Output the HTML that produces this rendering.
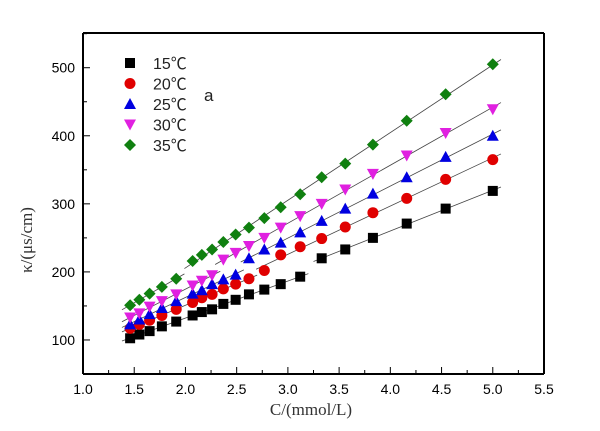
<!DOCTYPE html>
<html><head><meta charset="utf-8"><style>
body{margin:0;background:#fff;}
svg{display:block;}
text{font-family:"Liberation Sans","Noto Sans CJK SC",sans-serif;}
</style></head><body>
<svg id="chart" width="600" height="431"></svg>
<script>
const xs=[1.46,1.55,1.65,1.77,1.91,2.07,2.16,2.26,2.37,2.49,2.62,2.77,2.93,3.12,3.33,3.56,3.83,4.16,4.54,5.0];
const s15=[102.5,108,113,120,127,136,141,145,153,159,167,174,182,193,220,233,250,271,293,319];
const s20=[117,123,129,136,145,155,162,167,175,182,190,202,225,237,249,266,287,308,336,365];
const s25=[123,130,138,147,157,168,173,182,189,196,220,233,243,258,275,293,315,339,369,400];
const s30=[133,139,149,157,167,180,187,195,218,228,238,250,265,282,300,321,344,371,404,439];
const s35=[151,159,168,178,190,216,225,233,244,255,265,279,295,314,339,359,387,422,461,505];
const seriesNames=["15℃","20℃","25℃","30℃","35℃"];
const breaks=[13,10,9,7,4];
const xTicks=[1.0,1.5,2.0,2.5,3.0,3.5,4.0,4.5,5.0,5.5];
const yTicks=[100,200,300,400,500];

const NS="http://www.w3.org/2000/svg";
const svg=document.getElementById('chart');
const L=83,R=544,T=33,B=374,X0=1,X1=5.5,Y0=50,Y1=551;
const sx=v=>L+(v-X0)/(X1-X0)*(R-L);
const sy=v=>B-(v-Y0)/(Y1-Y0)*(B-T);
function el(t,a,p){const e=document.createElementNS(NS,t);for(const k in a)e.setAttribute(k,a[k]);(p||svg).appendChild(e);return e;}

const fr=el('g',{stroke:'#000','stroke-width':2});


[[L,T,R,T],[R,T,R,B],[R,B,L,B],[L,B,L,T]].forEach(p=>{
  const ln=el('line',{x1:p[0],y1:p[1],x2:p[2],y2:p[3],stroke:'#000','stroke-width':2},fr);
  
  
});

for(let k=0;k<=18;k++){
  const v=X0+k*0.25;
  const major=k%2===0;
  const t=el('line',{x1:sx(v),x2:sx(v),y1:B,y2:B-(major?7:4),stroke:'#000','stroke-width':1});
  
  
}
xTicks.forEach(v=>{
  const t=el('text',{x:sx(v),y:394,'text-anchor':'middle','font-size':14,fill:'#000'});
  t.textContent=v.toFixed(1);
  
  
});
for(let v=100;v<=550;v+=50){
  const major=v%100===0;
  const t=el('line',{x1:L,x2:L+(major?7:4),y1:sy(v),y2:sy(v),stroke:'#000','stroke-width':1});
  
  
}
yTicks.forEach(v=>{
  const t=el('text',{x:L-8,y:sy(v)+5,'text-anchor':'end','font-size':14,fill:'#000'});
  t.textContent=v;
  
  
});
const xt=el('text',{x:311,y:415,'text-anchor':'middle','font-size':17,fill:'#333','style':'font-family:"Liberation Serif",serif'});
xt.textContent='C/(mmol/L)';


const yt=el('text',{x:0,y:0,'text-anchor':'middle','font-size':17,fill:'#333',transform:'translate(32,240) rotate(-90)','style':'font-family:"Liberation Serif","DejaVu Serif",serif'});
yt.textContent='κ/(μs/cm)';



const data=[s15,s20,s25,s30,s35];
const colors=['#000000','#e00000','#0000e0','#e020e0','#108010'];
function marker(type,cx,cy,c,parent){
  const s=5;
  if(type===0)return el('rect',{x:cx-s,y:cy-s,width:2*s,height:2*s,fill:c},parent);
  if(type===1)return el('circle',{cx:cx,cy:cy,r:s+0.5,fill:c},parent);
  if(type===2)return el('polygon',{points:`${cx},${cy-s-1} ${cx+s+1},${cy+s} ${cx-s-1},${cy+s}`,fill:c},parent);
  if(type===3)return el('polygon',{points:`${cx-s-1},${cy-s} ${cx+s+1},${cy-s} ${cx},${cy+s+1}`,fill:c},parent);
  return el('polygon',{points:`${cx},${cy-s-1} ${cx+s+1},${cy} ${cx},${cy+s+1} ${cx-s-1},${cy}`,fill:c},parent);
}
function fitLine(xa,ya){
  const n=xa.length;let mx=0,my=0;xa.forEach((x,i)=>{mx+=x;my+=ya[i];});mx/=n;my/=n;
  let sxy=0,sxx=0;xa.forEach((x,i)=>{sxy+=(x-mx)*(ya[i]-my);sxx+=(x-mx)*(x-mx);});
  const b=sxy/sxx,a=my-b*mx;return [a,b];
}
data.forEach((ys,si)=>{
  const g=el('g',{});
  
  
  const br=breaks[si];
  [[0,br+1],[br+1,xs.length]].forEach(([a0,a1])=>{
    const xa=xs.slice(a0,a1),ya=ys.slice(a0,a1);
    const [a,b]=fitLine(xa,ya);
    const xa0=xa[0]-0.08,xa1=xa[xa.length-1]+0.08;
    const ln=el('line',{x1:sx(xa0),y1:sy(a+b*xa0),x2:sx(xa1),y2:sy(a+b*xa1),stroke:'#444','stroke-width':0.8},g);
    
    
  });
  ys.forEach((v,i)=>{
    const m=marker(si,sx(xs[i]),sy(v),colors[si],g);
    
    
  });
});
const lg=el('g',{});


seriesNames.forEach((nm,i)=>{
  const y=63+i*20.5;
  const m=marker(i,130,y,colors[i],lg);
  
  
  const t=el('text',{x:153,y:y+6,'font-size':16,fill:'#222'},lg);
  t.textContent=nm;
  
  
});
const lab=el('text',{x:204,y:101,'font-size':17,fill:'#222'});
lab.textContent='a';


</script>
</body></html>
